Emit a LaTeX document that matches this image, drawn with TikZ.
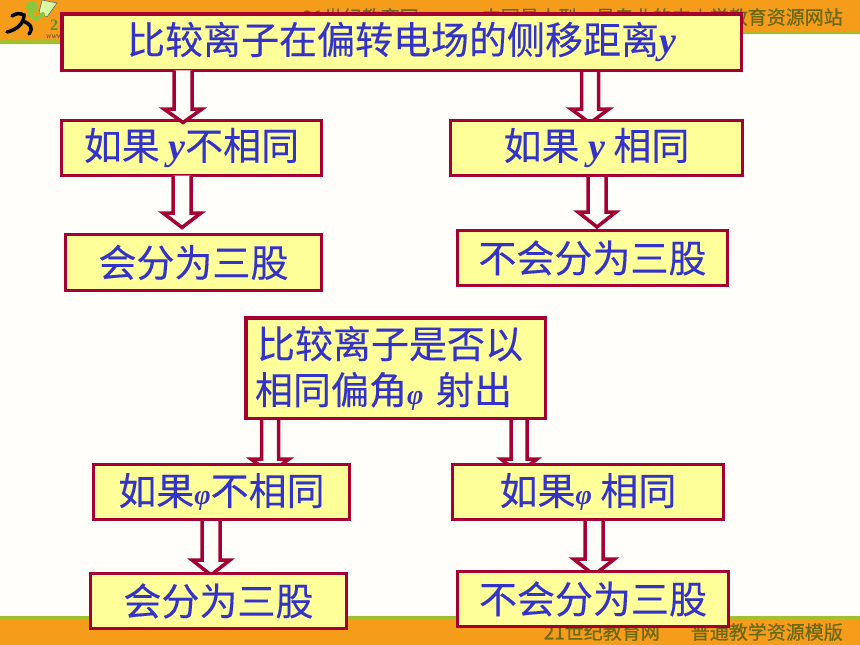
\documentclass[tikz,border=0pt]{standalone}
\usepackage{fontspec}
\setmainfont[FakeBold=0.25]{Noto Sans CJK SC}
\newfontfamily\latinserif{Liberation Serif}
\newfontfamily\bandfont[FakeBold=0.6]{Noto Sans CJK SC}
\usetikzlibrary{calc}
\definecolor{pagebg}{HTML}{FFFEFA}
\definecolor{bandorange}{HTML}{F59C1A}
\definecolor{bandgreen}{HTML}{A0C030}
\definecolor{boxfill}{HTML}{FFFF99}
\definecolor{boxline}{HTML}{A50034}
\definecolor{textblue}{HTML}{3333CC}
\definecolor{bandtext}{HTML}{6B6A12}
\definecolor{logogreen}{HTML}{8CC63F}
\pgfdeclarelayer{backdrop}
\pgfdeclarelayer{arrowlayer}
\pgfsetlayers{backdrop,arrowlayer,main}
\newcommand{\yvar}{{\latinserif\bfseries\itshape y}}
\newcommand{\phivar}{{\latinserif\bfseries\itshape\fontsize{28}{28}\selectfont φ}}
% from node, to node, centre x, y of head shoulder, y of tip, half shaft, half head
\newcommand{\hollowarrow}[7]{%
  \draw[hollow] let \p1=(#1.south), \p2=(#2.north) in
    (#3-#6,\y1) -- (#3-#6,#4) -- (#3-#7,#4) -- (#3,#5)
    -- (#3+#7,#4) -- (#3+#6,#4) -- (#3+#6,\y1) ;%
}
\tikzset{
  flowbox/.style={draw=boxline,fill=boxfill,line width=3pt,text=textblue,
    font=\fontsize{38}{46}\selectfont,inner sep=0pt,outer sep=0pt,anchor=center},
  headbox/.style={flowbox,line width=3.5pt},
  hollow/.style={draw=boxline,fill=pagebg,line width=3.5pt,miter limit=4},
  bandlabel/.style={text=bandtext,font=\bandfont\fontsize{19}{19}\selectfont,inner sep=0pt,anchor=east},
}
\begin{document}
\begin{tikzpicture}[x=1pt,y=-1pt]
\useasboundingbox (0,0) rectangle (860,645);
\begin{pgfonlayer}{backdrop}
\fill[pagebg] (0,0) rectangle (860,645);
% top and bottom bands
\fill[bandgreen] (0,0) -- (860,0) -- (860,34) -- (60,34) -- (60,44) -- (0,44) -- cycle;
\fill[bandorange] (0,0) -- (860,0) -- (860,32) -- (60,32) -- (60,40) -- (0,40) -- cycle;
\fill[bandgreen] (0,616) rectangle (860,619);
\fill[bandorange] (0,619) rectangle (860,645);
\node[bandlabel] (headtext) at (843,17) {21世纪教育网\hspace{50pt}--中国最大型、最专业的中小学教育资源网站};
\node[bandlabel] (foottext1) at (660,632) {21世纪教育网};
\node[bandlabel] (foottext2) at (843,632) {普通教学资源模版};
% logo
\fill[white!80!green!80!yellow,draw=black!60,line width=.6pt] (42,0) -- (57,3) -- (47,17) -- (39,13) -- cycle;
\fill[logogreen] (32,7) circle (6);
\draw[logogreen,line width=4pt,line cap=round] (29,14) -- (36,19) -- (43,14);
\draw[black,line width=3.5pt,line cap=round] (12,16) .. controls (16,13) and (20,13) .. (24,15)
  .. controls (24,24) and (16,30) .. (7,32);
\draw[black,line width=3.5pt,line cap=round] (23,21) .. controls (30,24) and (34,27) .. (29,34);
\node[text=logogreen!70!black,font=\latinserif\bfseries\fontsize{16}{16}\selectfont,inner sep=0pt,anchor=west] (logotwo) at (50,25.5) {2};
\node[text=black!70,font=\latinserif\itshape\fontsize{8}{8}\selectfont,inner sep=0pt,anchor=west] (logoweb) at (46,36.5) {www};
\end{pgfonlayer}
% boxes
\node[headbox,minimum width=679.5pt,minimum height=56.5pt] (top) at (401.5,42)
  {\raisebox{-1.5pt}{比较离子在偏转电场的侧移距离\yvar}};
\node[flowbox,minimum width=260pt,minimum height=55pt] (ydiff) at (191.5,148)
  {\raisebox{-1.5pt}{如果 \yvar 不相同}};
\node[flowbox,minimum width=292pt,minimum height=55pt] (ysame) at (596.5,148)
  {\raisebox{-1.5pt}{如果 \yvar\ 相同}};
\node[flowbox,minimum width=256pt,minimum height=56pt] (ysplit) at (193.5,262.5)
  {会分为三股};
\node[flowbox,minimum width=270pt,minimum height=55pt] (ynosplit) at (592.5,258)
  {不会分为三股};
\node[flowbox,line width=3.5pt,minimum width=299.5pt,minimum height=100.5pt,
      text width=281pt,align=left] (mid) at (395.5,368)
  {\hspace*{2pt}比较离子是否以\\相同偏角\phivar\ 射出};
\node[flowbox,minimum width=256pt,minimum height=55pt] (pdiff) at (221.5,492)
  {如果\phivar 不相同};
\node[flowbox,minimum width=271pt,minimum height=55pt] (psame) at (588,492)
  {如果\phivar\ 相同};
\node[flowbox,minimum width=256pt,minimum height=55pt] (psplit) at (218.5,601)
  {会分为三股};
\node[flowbox,minimum width=271pt,minimum height=55pt] (pnosplit) at (593,599)
  {不会分为三股};
% arrows drawn over their target box
\hollowarrow{top}{ydiff}{183}{109}{122.5}{9}{19}
\hollowarrow{ydiff}{ysplit}{182}{213}{227.5}{9}{19}
% arrows that pass behind their target box
\begin{pgfonlayer}{arrowlayer}
\hollowarrow{top}{ysame}{590}{109}{123}{8.5}{19}
\hollowarrow{ysame}{ynosplit}{597}{212}{227}{9}{19}
\hollowarrow{mid}{pdiff}{270}{459}{473}{8.5}{19}
\hollowarrow{mid}{psame}{519}{459}{473}{8}{18}
\hollowarrow{pdiff}{psplit}{211}{560}{575}{9}{19}
\hollowarrow{psame}{pnosplit}{594}{559}{575}{9}{20.5}
\end{pgfonlayer}
\end{tikzpicture}
\end{document}
